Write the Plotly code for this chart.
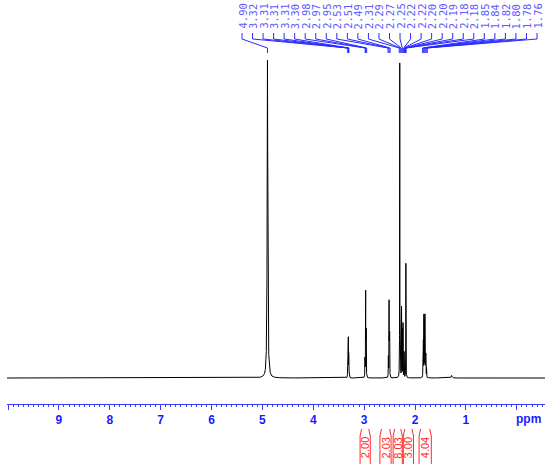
import numpy as np
import plotly.graph_objects as go

# peak list (ppm, relative height, half width)
peak_ppm = [4.90,
            3.325, 3.318, 3.311, 3.304, 3.297,
            2.982, 2.970, 2.958,
            2.522, 2.510, 2.498,
            2.300, 2.285, 2.265, 2.250, 2.235, 2.215, 2.180,
            1.845, 1.835, 1.825, 1.815, 1.805, 1.795, 1.785, 1.775,
            1.28]
peak_height = [1.0,
               0.03, 0.07, 0.12, 0.07, 0.03,
               0.15, 0.27, 0.15,
               0.14, 0.24, 0.14,
               0.99, 0.08, 0.22, 0.15, 0.17, 0.08, 0.36,
               0.06, 0.12, 0.19, 0.17, 0.19, 0.12, 0.07, 0.03,
               0.008]
peak_width = [0.007] + [0.0018] * 26 + [0.01]

# picked peak labels (top)
peak_labels = ["4.90", "3.32", "3.31", "3.31", "3.31", "3.30", "2.98", "2.97", "2.95",
               "2.53", "2.51", "2.49", "2.31", "2.29", "2.27", "2.25", "2.22", "2.22",
               "2.20", "2.20", "2.19", "2.18", "2.18", "1.85", "1.84", "1.82", "1.80",
               "1.78", "1.76"]

# integrals (bottom)
integral_values = ["2.00", "2.03", "8.03", "3.00", "4.04"]
integral_hi = [3.08, 2.69, 2.43, 2.23, 1.92]
integral_lo = [2.88, 2.47, 2.25, 2.03, 1.68]

X_MAX, X_MIN = 10.02, -0.555
PLOT_H = 404
BASE_Y, TOP_Y = 378, 60


def x_to_ppm(px):
    return X_MAX - (px - 7) / 538 * (X_MAX - X_MIN)


def py_to_paper(py):
    return (PLOT_H - py) / PLOT_H


# spectrum from Lorentzian lines
ppm = np.linspace(X_MAX, X_MIN, 42000)
intensity = np.zeros_like(ppm)
for p, h, w in zip(peak_ppm, peak_height, peak_width):
    intensity += h * w**2 / ((ppm - p) ** 2 + w**2)

scale = BASE_Y - TOP_Y
ymin = -(PLOT_H - BASE_Y) / scale
ymax = ymin + PLOT_H / scale

fig = go.Figure(go.Scatter(
    x=ppm, y=intensity, mode="lines",
    line=dict(color="black", width=1),
    hoverinfo="skip"
))

shapes = []
annotations = []

# peak labels + leader lines
label_px = np.linspace(242, 537, len(peak_labels))
lead_color = "#2a2aff"
for lab, px in zip(peak_labels, label_px):
    lx = x_to_ppm(px)
    tx = float(lab)
    annotations.append(dict(
        x=lx, y=py_to_paper(2), xref="x", yref="paper",
        text=lab, textangle=-90, showarrow=False,
        xanchor="center", yanchor="top",
        font=dict(family="DejaVu Sans Mono", size=10.5, color="#5a5aff")
    ))
    path = (f"M {lx},{py_to_paper(33)} L {lx},{py_to_paper(39)} "
            f"L {tx},{py_to_paper(48)} L {tx},{py_to_paper(53)}")
    shapes.append(dict(type="path", path=path, xref="x", yref="paper",
                       line=dict(color=lead_color, width=1)))

# integrals
red = "#ff2a2a"
ybot = py_to_paper(468)
for val, hi, lo in zip(integral_values, integral_hi, integral_lo):
    inset = 0.03
    shapes.append(dict(
        type="path", xref="x", yref="paper", line=dict(color=red, width=1),
        path=f"M {hi},{ybot} L {hi},{py_to_paper(436)} L {hi - inset},{py_to_paper(429)}"
    ))
    shapes.append(dict(
        type="path", xref="x", yref="paper", line=dict(color=red, width=1),
        path=f"M {lo},{ybot} L {lo},{py_to_paper(436)} L {lo + inset},{py_to_paper(429)}"
    ))
    annotations.append(dict(
        x=(hi + lo) / 2, y=py_to_paper(448), xref="x", yref="paper",
        text=val, textangle=-90, showarrow=False,
        xanchor="center", yanchor="middle",
        font=dict(family="Arial", size=11, color=red)
    ))

annotations.append(dict(
    x=x_to_ppm(528), y=py_to_paper(419), xref="x", yref="paper",
    text="<b>ppm</b>", showarrow=False, xanchor="center", yanchor="middle",
    font=dict(family="Arial", size=12, color="#1a1aff")
))

axis_blue = "#3a3aff"
fig.update_layout(
    width=550, height=464,
    margin=dict(l=7, r=5, t=0, b=60, autoexpand=False),
    plot_bgcolor="white", paper_bgcolor="white",
    showlegend=False,
    shapes=shapes,
    annotations=annotations,
    xaxis=dict(
        range=[X_MAX, X_MIN],
        tickvals=list(range(0, 11)),
        ticktext=[""] + [str(i) for i in range(1, 10)] + [""],
        ticks="outside", ticklen=5, tickcolor=axis_blue, tickwidth=1,
        showline=True, linecolor=axis_blue, linewidth=1,
        showgrid=False, zeroline=False,
        tickfont=dict(family="Arial", size=12, color="#1a1aff", weight="bold"),
        minor=dict(dtick=0.1, ticks="outside", ticklen=2, tickcolor=axis_blue,
                   showgrid=False),
    ),
    yaxis=dict(range=[ymin, ymax], visible=False, showgrid=False, zeroline=False),
)

# page body has a default 8px margin; drop it so the figure sits at 0,0
fig.write_html("out.html", config={"displayModeBar": False},
               post_script="document.body.style.margin='0px';")
